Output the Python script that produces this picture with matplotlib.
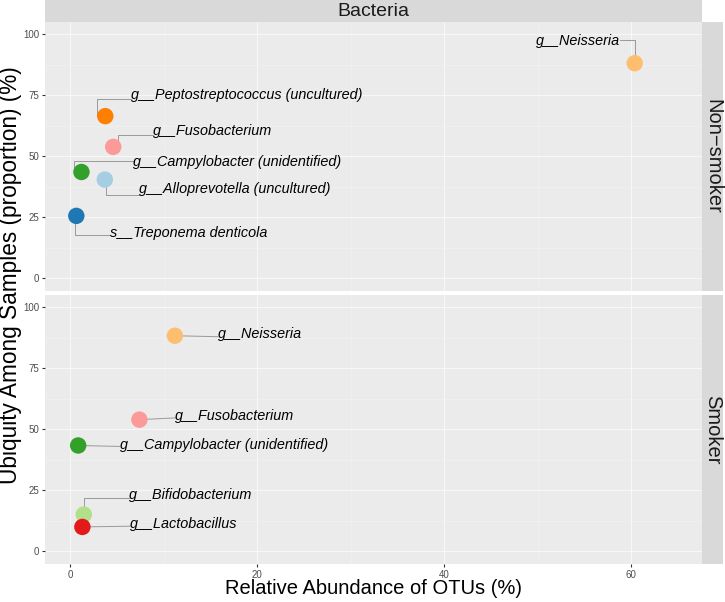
import matplotlib
matplotlib.use("Agg")
import matplotlib.pyplot as plt
from matplotlib.ticker import MultipleLocator

# --- data ---
groups = ["Non\u2212smoker", "Smoker"]

ns_taxa = ["g__Neisseria", "g__Peptostreptococcus (uncultured)", "g__Fusobacterium",
           "g__Campylobacter (unidentified)", "g__Alloprevotella (uncultured)",
           "s__Treponema denticola"]
ns_abund = [60.4, 3.75, 4.6, 1.2, 3.7, 0.65]
ns_ubiq = [88.1, 66.4, 53.8, 43.5, 40.4, 25.5]

sm_taxa = ["g__Neisseria", "g__Fusobacterium", "g__Campylobacter (unidentified)",
           "g__Bifidobacterium", "g__Lactobacillus"]
sm_abund = [11.2, 7.4, 0.85, 1.45, 1.3]
sm_ubiq = [88.3, 53.9, 43.3, 15.0, 9.9]

# colours per taxon (Paired palette)
taxon_colors = {
    "s__Treponema denticola": "#1F78B4",
    "g__Alloprevotella (uncultured)": "#A6CEE3",
    "g__Campylobacter (unidentified)": "#33A02C",
    "g__Bifidobacterium": "#B2DF8A",
    "g__Fusobacterium": "#FB9A99",
    "g__Lactobacillus": "#E31A1C",
    "g__Neisseria": "#FDBF6F",
    "g__Peptostreptococcus (uncultured)": "#FF7F00",
}

# label placement (repel-like): text x, text y, connector y, elbow x (None = straight), alignment
ns_lab = [(58.8, 97.3, 97.6, 60.4, "right"),
          (6.5, 75.1, 73.5, 2.85, "left"),
          (8.9, 60.5, 58.8, 5.1, "left"),
          (6.76, 47.4, 48.2, 0.4, "left"),
          (7.4, 36.5, 34.2, 3.8, "left"),
          (4.25, 18.6, 17.7, 0.55, "left")]
sm_lab = [(15.8, 89.0, 87.9, None, "left"),
          (11.2, 55.2, 54.6, None, "left"),
          (5.3, 43.4, 42.9, None, "left"),
          (6.3, 23.1, 21.9, 1.45, "left"),
          (6.4, 11.3, 10.2, None, "left")]

W, H = 725, 602
fig = plt.figure(figsize=(W / 100, H / 100), dpi=100)

sans = ["Liberation Sans", "DejaVu Sans"]

left, right = 45 / W, 702 / W
panels = [(22, 291), (295, 564)]


def draw_panel(ax, taxa, xs, ys, labs, show_x):
    ax.set_facecolor("#EBEBEB")
    ax.set_xlim(-2.7, 67.6)
    ax.set_ylim(-5.3, 105)
    ax.xaxis.set_major_locator(MultipleLocator(20))
    ax.xaxis.set_minor_locator(MultipleLocator(10))
    ax.yaxis.set_major_locator(MultipleLocator(25))
    ax.yaxis.set_minor_locator(MultipleLocator(12.5))
    ax.grid(which="major", color="#FAFAFA", linewidth=0.6)
    ax.grid(which="minor", color="#F3F3F3", linewidth=0.4)
    ax.set_axisbelow(True)
    for s in ax.spines.values():
        s.set_visible(False)
    ax.tick_params(which="major", length=2.5, color="#333333", labelsize=7,
                   labelcolor="#4D4D4D", pad=1.5)
    ax.tick_params(which="minor", length=0)
    if not show_x:
        ax.tick_params(axis="x", which="major", length=0, labelbottom=False)
    for t in ax.get_xticklabels() + ax.get_yticklabels():
        t.set_family(sans)

    for name, x, y, (tx, ty, ly, cx, ha) in zip(taxa, xs, ys, labs):
        if cx is None:
            ax.plot([tx, x], [ly, y], color="#999999", lw=0.7, zorder=2)
        else:
            ax.plot([tx, cx, cx], [ly, ly, y], color="#999999", lw=0.7, zorder=2)
        ax.scatter(x, y, s=140, color=taxon_colors[name], edgecolors="none", zorder=3)
        ax.text(tx, ty, name, ha=ha, va="center", fontsize=10.4, style="italic",
                family=sans, color="black", zorder=4)


data = [(ns_taxa, ns_abund, ns_ubiq, ns_lab), (sm_taxa, sm_abund, sm_ubiq, sm_lab)]
for i, ((top, bot), (taxa, xs, ys, labs)) in enumerate(zip(panels, data)):
    ax = fig.add_axes([left, 1 - bot / H, right - left, (bot - top) / H])
    draw_panel(ax, taxa, xs, ys, labs, show_x=(i == 1))
    # right strip
    sax = fig.add_axes([702 / W, 1 - bot / H, 21 / W, (bot - top) / H])
    sax.set_facecolor("#D9D9D9")
    sax.set_xticks([])
    sax.set_yticks([])
    for s in sax.spines.values():
        s.set_visible(False)
    sax.text(0.5, 0.5, groups[i], rotation=-90, ha="center", va="center",
             fontsize=14.5, family=sans, color="#1A1A1A", transform=sax.transAxes)

# top strip
tax = fig.add_axes([left, 1 - 22 / H, right - left, 22 / H])
tax.set_facecolor("#D9D9D9")
tax.set_xticks([])
tax.set_yticks([])
for s in tax.spines.values():
    s.set_visible(False)
tax.text(0.5, 0.5, "Bacteria", ha="center", va="center", fontsize=14,
         family=sans, color="#1A1A1A", transform=tax.transAxes)

fig.text((left + right) / 2, 1 - 589 / H, "Relative Abundance of OTUs (%)",
         ha="center", va="center", fontsize=14.5, family=sans)
fig.text(11 / W, 1 - 275 / H, "Ubiquity Among Samples (proportion) (%)",
         ha="center", va="center", rotation=90, fontsize=16.3, family=sans)

fig.savefig("out.png", dpi=100)
